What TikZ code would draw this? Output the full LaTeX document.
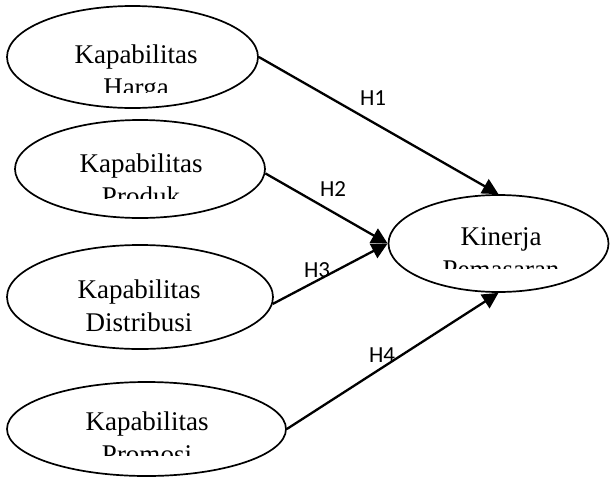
\documentclass[tikz,border=0pt]{standalone}
\usepackage{fontspec}
\setmainfont{Liberation Serif}
\newfontfamily\labfont{Carlito}
\usetikzlibrary{shapes.geometric,arrows.meta}
\tikzset{
  var/.style={ellipse, draw=black, line width=1.7pt, inner sep=0pt, fill=white},
  vtext/.style={anchor=base, inner sep=0pt, font=\fontsize{27}{33}\selectfont},
  conn/.style={line width=2.3pt, -{Triangle[length=16pt,width=16pt]}},
  hlab/.style={inner sep=0pt, font=\labfont\fontsize{23}{26}\selectfont}
}
\begin{document}
\begin{tikzpicture}[x=1pt,y=-1pt]
\useasboundingbox (0,0) rectangle (610,477);
% ellipses
\node[var, minimum width=251pt, minimum height=102pt] (harga) at (132.5,57) {};
\node[var, minimum width=250pt, minimum height=98pt] (produk) at (140,169) {};
\node[var, minimum width=266pt, minimum height=104pt] (distribusi) at (140,297) {};
\node[var, minimum width=279pt, minimum height=94pt] (promosi) at (146.5,429) {};
\node[var, minimum width=220pt, minimum height=97pt] (kinerja) at (498.5,243.5) {};
% texts
\node[vtext] (t1a) at (136,63) {Kapabilitas};
\begin{scope}\clip (0,0) rectangle (610,92);
\node[vtext] (t1b) at (136,96) {Harga};
\end{scope}
\node[vtext] (t2a) at (141,172) {Kapabilitas};
\begin{scope}\clip (0,120) rectangle (610,198);
\node[vtext] (t2b) at (141,205) {Produk};
\end{scope}
\node[vtext] (t3a) at (139,298) {Kapabilitas};
\node[vtext] (t3b) at (139,331) {Distribusi};
\node[vtext] (t4a) at (147,430) {Kapabilitas};
\begin{scope}\clip (0,380) rectangle (610,455);
\node[vtext] (t4b) at (147,463) {Promosi};
\end{scope}
\node[vtext] (t5a) at (501,245) {Kinerja};
\begin{scope}\clip (380,195) rectangle (610,268);
\node[vtext] (t5b) at (501,278) {Pemasaran};
\end{scope}
% connectors
\draw[conn] (harga.east) -- (kinerja.north);
\draw[conn] (produk.-2) -- (kinerja.west);
\draw[conn] (distribusi.-3.5) -- (kinerja.west);
\draw[conn] (promosi.east) -- (kinerja.south);
% labels
\node[hlab] (h1) at (373,98) {H1};
\node[hlab] (h2) at (333,189) {H2};
\node[hlab] (h3) at (317,270) {H3};
\node[hlab] (h4) at (382,355) {H4};
\end{tikzpicture}
\end{document}
